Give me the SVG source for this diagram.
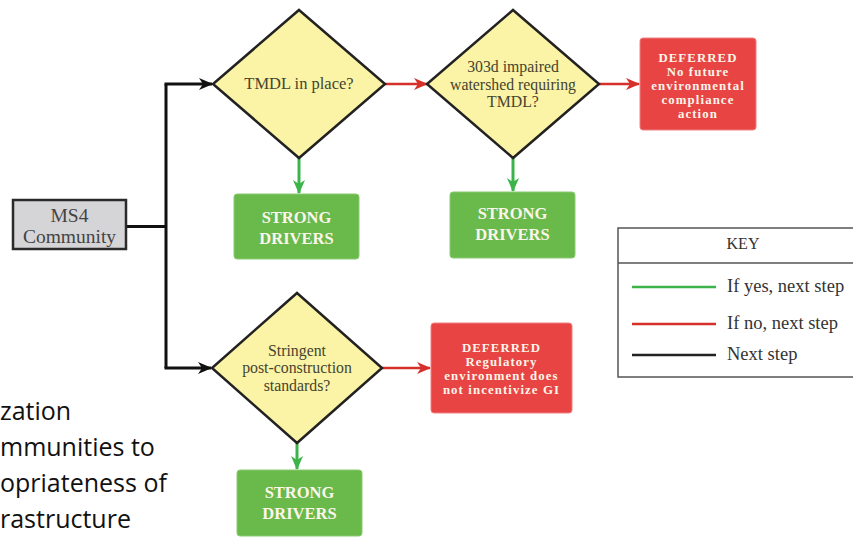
<svg xmlns="http://www.w3.org/2000/svg" width="853" height="537" viewBox="0 0 853 537">
<style>
.dia{fill:#fbf3a6;stroke:#222;stroke-width:2.5;stroke-linejoin:miter}
.dt{font-family:"Liberation Serif",serif;font-size:15.8px;fill:#45452f;text-anchor:middle}
.red{fill:#e84444;stroke:#f08080;stroke-width:1}
.grn{fill:#69b94b;stroke:#8acb70;stroke-width:1}
.bt{font-family:"Liberation Serif",serif;font-weight:bold;fill:#fbf5ea;text-anchor:middle}
.rt{font-size:12.8px;letter-spacing:1.1px}
.cb{fill:none;stroke:#111;stroke-width:3}
.cr{fill:none;stroke:#d6302a;stroke-width:2.5}
.cg{fill:none;stroke:#3cb44a;stroke-width:3}
.kt{font-family:"Liberation Serif",serif;font-size:18.5px;fill:#333}
.side{font-family:"Open Sans",sans-serif;font-size:25px;fill:#111}
</style>
<defs>
<marker id="ab" markerUnits="userSpaceOnUse" markerWidth="14" markerHeight="12" refX="13" refY="6" orient="auto"><path d="M0,0 L14,6 L0,12 L4,6 Z" fill="#111"/></marker>
<marker id="ar" markerUnits="userSpaceOnUse" markerWidth="14" markerHeight="12" refX="13" refY="6" orient="auto"><path d="M0,0 L14,6 L0,12 L4,6 Z" fill="#d6302a"/></marker>
<marker id="ag" markerUnits="userSpaceOnUse" markerWidth="14" markerHeight="12" refX="13" refY="6" orient="auto"><path d="M0,0 L14,6 L0,12 L4,6 Z" fill="#3cb44a"/></marker>
</defs>
<rect width="853" height="537" fill="#fff"/>

<g id="connectors">
<path class="cb" d="M126,226.5 H166"/>
<path class="cb" d="M166,84 V368"/>
<path class="cb" d="M164.5,84 H212" marker-end="url(#ab)"/>
<path class="cb" d="M164.5,368 H211" marker-end="url(#ab)"/>
<path class="cr" d="M385,84 H427" marker-end="url(#ar)"/>
<path class="cr" d="M599,84 H639" marker-end="url(#ar)"/>
<path class="cr" d="M382,368 H430" marker-end="url(#ar)"/>
<path class="cg" d="M299,158 V193" marker-end="url(#ag)"/>
<path class="cg" d="M513,158 V191" marker-end="url(#ag)"/>
<path class="cg" d="M297,443 V469" marker-end="url(#ag)"/>
</g>

<g id="ms4">
<rect x="13" y="200" width="113" height="49" fill="#d5d5d7" stroke="#2a2a2a" stroke-width="2.5"/>
<text class="dt" x="69.5" y="222" style="font-size:19.5px;fill:#444">MS4</text>
<text class="dt" x="69.5" y="243" style="font-size:19.5px;fill:#444">Community</text>
</g>

<g id="d1">
<polygon class="dia" points="299,10 385,84 299,158 213,84"/>
<text class="dt" x="299" y="89" style="font-size:16.5px">TMDL in place?</text>
</g>

<g id="d2">
<polygon class="dia" points="513,10 599,84 513,158 427,84"/>
<text class="dt" x="513" y="72">303d impaired</text>
<text class="dt" x="513" y="89.5">watershed requiring</text>
<text class="dt" x="513" y="107">TMDL?</text>
</g>

<g id="d3">
<polygon class="dia" points="297,293 382,368 297,443 212,368"/>
<text class="dt" x="297" y="355.5">Stringent</text>
<text class="dt" x="297" y="373">post-construction</text>
<text class="dt" x="297" y="390.5">standards?</text>
</g>

<g id="def1">
<rect class="red" x="640" y="38" width="116" height="92" rx="3"/>
<text class="bt rt" x="698" y="62">DEFERRED</text>
<text class="bt rt" x="698" y="76">No future</text>
<text class="bt rt" x="698" y="90">environmental</text>
<text class="bt rt" x="698" y="104">compliance</text>
<text class="bt rt" x="698" y="118">action</text>
</g>

<g id="def2">
<rect class="red" x="431" y="323" width="141" height="90" rx="3"/>
<text class="bt rt" x="501.5" y="352">DEFERRED</text>
<text class="bt rt" x="501.5" y="366">Regulatory</text>
<text class="bt rt" x="501.5" y="380">environment does</text>
<text class="bt rt" x="501.5" y="394">not incentivize GI</text>
</g>

<g id="sd1">
<rect class="grn" x="234" y="194" width="125" height="65" rx="3"/>
<text class="bt" x="296.5" y="223" font-size="16.5">STRONG</text>
<text class="bt" x="296.5" y="244" font-size="16.5">DRIVERS</text>
</g>

<g id="sd2">
<rect class="grn" x="450" y="192" width="125" height="66" rx="3"/>
<text class="bt" x="512.5" y="219" font-size="16.5">STRONG</text>
<text class="bt" x="512.5" y="240" font-size="16.5">DRIVERS</text>
</g>

<g id="sd3">
<rect class="grn" x="237" y="470" width="125" height="66" rx="3"/>
<text class="bt" x="299.5" y="498" font-size="16.5">STRONG</text>
<text class="bt" x="299.5" y="519" font-size="16.5">DRIVERS</text>
</g>

<g id="key">
<rect x="618" y="228" width="245" height="149" fill="#fff" stroke="#555" stroke-width="1.5"/>
<line x1="618" y1="263" x2="853" y2="263" stroke="#555" stroke-width="1.5"/>
<text class="kt" x="743" y="249" text-anchor="middle" style="font-size:16px">KEY</text>
<line x1="632" y1="287" x2="716" y2="287" stroke="#3cb44a" stroke-width="2.5"/>
<line x1="632" y1="324" x2="716" y2="324" stroke="#d6302a" stroke-width="2.5"/>
<line x1="632" y1="355" x2="716" y2="355" stroke="#222" stroke-width="2.5"/>
<text class="kt" x="727" y="292">If yes, next step</text>
<text class="kt" x="727" y="329">If no, next step</text>
<text class="kt" x="727" y="360">Next step</text>
</g>

<g id="sidetext">
<text class="side" x="0" y="420">zation</text>
<text class="side" x="0" y="456">mmunities to</text>
<text class="side" x="0" y="492">opriateness of</text>
<text class="side" x="0" y="528">rastructure</text>
</g>
</svg>
